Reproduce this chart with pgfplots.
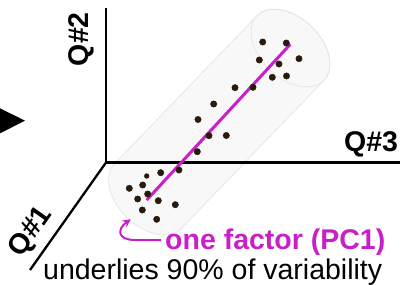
\documentclass[border=0pt]{standalone}
\usepackage{fontspec}
\setmainfont{Liberation Sans}
\usepackage{pgfplots}
\pgfplotsset{compat=1.18}
\usetikzlibrary{arrows.meta}
\definecolor{pcmag}{RGB}{200,32,200}
\definecolor{dotc}{RGB}{40,26,12}
\definecolor{cylfill}{RGB}{248,248,248}
\definecolor{cyldraw}{RGB}{228,228,228}
\begin{document}
\begin{tikzpicture}
% translucent cylinder (schematic)
\begin{scope}[shift={(290.5pt,236pt)}, rotate=46.1]
  \filldraw[fill=cylfill, draw=cyldraw, line width=0.7pt]
    (0,46.5pt) arc[start angle=90, end angle=-90, x radius=30pt, y radius=46.5pt]
    -- (-205.5pt,-46.5pt) arc[start angle=-90, end angle=-270, x radius=30pt, y radius=46.5pt]
    -- cycle;
  \draw[cyldraw, line width=0.7pt] (0,0) ellipse[x radius=30pt, y radius=46.5pt];
\end{scope}
\begin{axis}[at={(0,0)}, anchor=south west, scale only axis,
  width=404pt, height=284pt, xmin=0, xmax=404, ymin=0, ymax=284,
  hide axis, clip=false]
  % 3D axes
  \draw[line width=2.3pt, line join=miter] (axis cs:106,276) -- (axis cs:106,121.5) -- (axis cs:400,121.5);
  \draw[line width=2.3pt] (axis cs:106,121.5) -- (axis cs:30,14);
  % PC1 line
  \addplot[pcmag, line width=3pt] coordinates {(146.7,84) (290.3,239.7)};
  % data points
  \addplot[only marks, mark=*, mark size=3.2pt, color=dotc] coordinates {
    (197.3,132.3) (179,114) (160.7,111.3) (142.7,99) (129.3,95.7)
    (147.7,90) (137.7,85) (158.3,83.3) (175.3,79.3) (142.3,74) (156.7,64.7)
    (209,148.3) (226.3,148.5) (198,164.5) (213.7,180) (235,196.3) (253,196.7)
    (262.7,242) (286.3,241) (259.3,224) (279,220) (299,225.3) (272.3,206.7) (286.5,208)
  };
  \addplot[only marks, mark=*, mark size=2.4pt, color=dotc] coordinates {(146.7,108)};
  % arrow triangle at left
  \fill (axis cs:0,175.7) -- (axis cs:25,163.3) -- (axis cs:0,150.7) -- cycle;
  % curved arrow
  \draw[pcmag, line width=2pt, -{Stealth[length=8pt,width=8pt]}]
    (axis cs:161,44) -- (axis cs:135,44) .. controls (axis cs:117,44) and (axis cs:117,55) .. (axis cs:130.7,64.7);
  % labels
  \node[rotate=90, anchor=base, inner sep=0pt, font=\fontsize{28.5}{34}\selectfont\bfseries]
    at (axis cs:88,244.8) {Q\#2};
  \node[anchor=base west, inner sep=0pt, font=\fontsize{28.5}{34}\selectfont\bfseries]
    at (axis cs:344,132) {Q\#3};
  \node[rotate=55, anchor=center, inner sep=0pt, font=\fontsize{28.5}{34}\selectfont\bfseries]
    at (axis cs:31.5,52) {Q\#1};
  \node[anchor=base west, inner sep=0pt, text=pcmag, font=\fontsize{28.5}{34}\selectfont\bfseries]
    at (axis cs:165,34.5) {one factor (PC1)};
  \node[anchor=base west, inner sep=0pt, font=\fontsize{28.5}{34}\selectfont]
    at (axis cs:43,4.5) {underlies 90\% of variability};
\end{axis}
\pgfresetboundingbox
\path (0,0) rectangle (404pt,284pt);
\end{tikzpicture}
\end{document}
